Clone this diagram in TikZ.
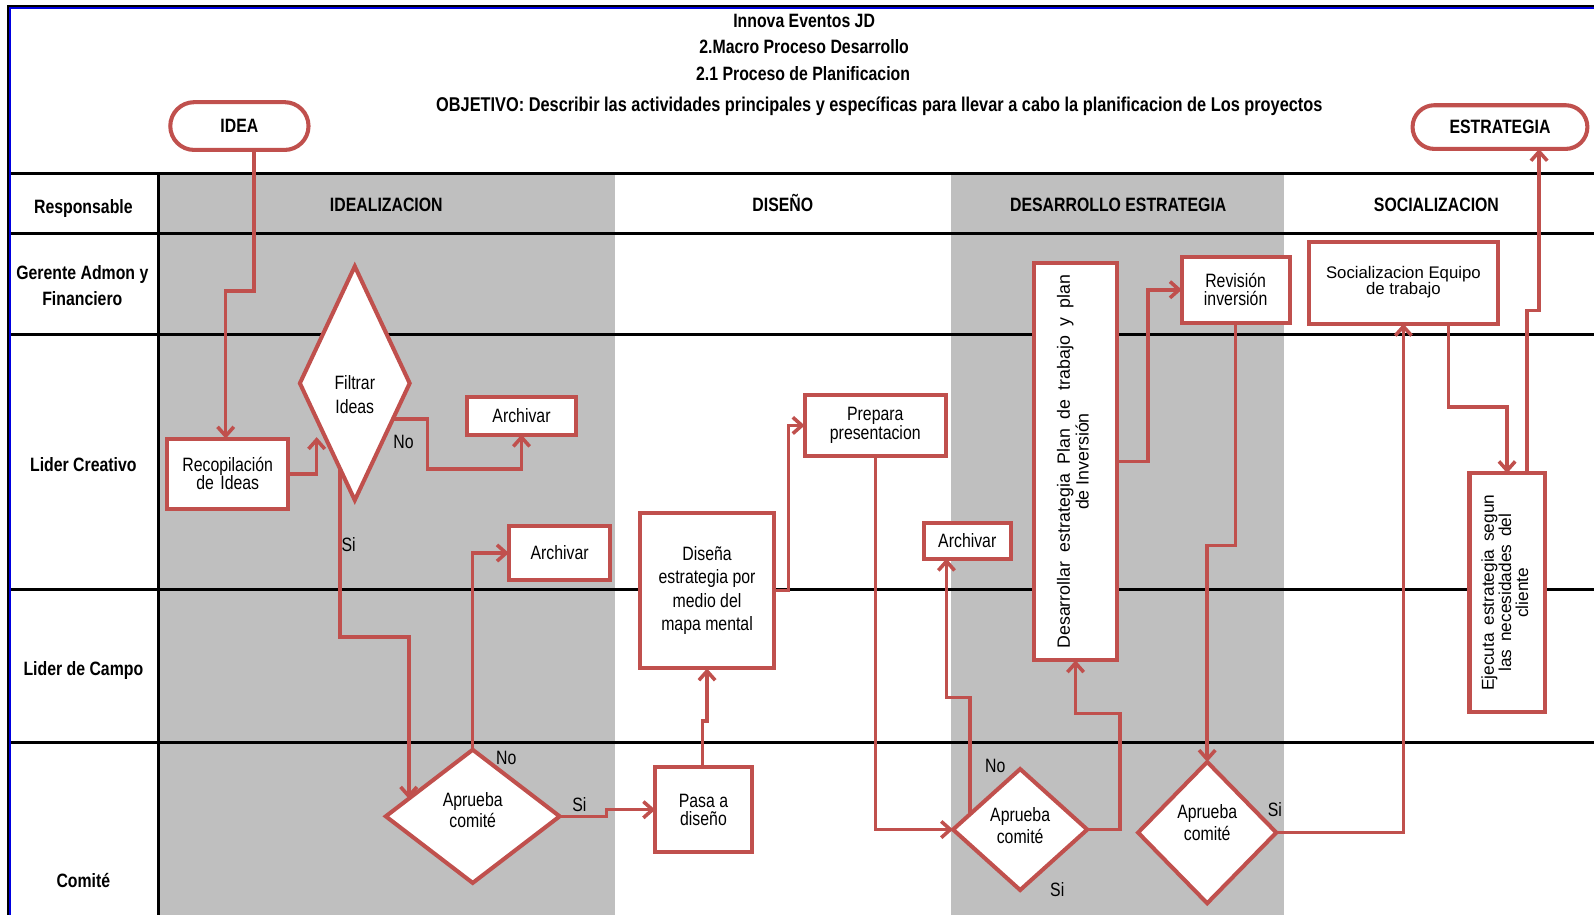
\documentclass[tikz,border=0pt]{standalone}
\usepackage{fontspec}
\setmainfont{Liberation Sans}[FakeStretch=0.82]
\newfontfamily\widesans{Liberation Sans}
\usetikzlibrary{shapes.geometric,arrows.meta,calc}
\definecolor{lnred}{RGB}{192,80,77}
\definecolor{lanegray}{RGB}{191,191,191}
\definecolor{frameblue}{RGB}{0,0,225}

\begin{document}
\begin{tikzpicture}[x=1pt,y=-1pt,
  every node/.style={inner sep=0pt, outer sep=0pt, text=black},
  nar/.style={font=\fontsize{19}{18}\selectfont},
  hdr/.style={font=\bfseries\fontsize{19}{25}\selectfont},
  box/.style={draw=lnred, line width=4pt, fill=white, rectangle, align=center, nar},
  dia/.style={draw=lnred, line width=4pt, fill=white, diamond},
  pill/.style={draw=lnred, line width=4pt, fill=white, rectangle, hdr},
  conn/.style={draw=lnred, line width=3.5pt, line join=miter,
               -{Straight Barb[length=9pt,width=16pt]}},
  gridline/.style={black, line width=3pt},
  lbl/.style={nar},
]
\useasboundingbox (0,0) rectangle (1568,900);

% lane shading for the idealizacion and desarrollo phases
\fill[lanegray] (157,171) rectangle (605,900);
\fill[lanegray] (935,171) rectangle (1263,900);

% outer frame
\draw[black, line width=2pt] (8,5.5) -- (1568,5.5);
\draw[frameblue, line width=2.5pt] (9,8) -- (1568,8);
\draw[black, line width=1.5pt] (8,5) -- (8,900);
\draw[frameblue, line width=2.5pt] (10,7) -- (10,900);

% swimlane grid
\foreach \yy in {171,230,329,580,730}
  \draw[gridline] (11,\yy) -- (1568,\yy);
\draw[gridline] (156,171) -- (156,900);

% title block
\node[hdr, anchor=base] (t1) at (791,27) {Innova Eventos JD};
\node[hdr, anchor=base] (t2) at (791,53) {2.Macro Proceso Desarrollo};
\node[hdr, anchor=base] (t3) at (790,79) {2.1 Proceso de Planificacion};
\node[hdr, anchor=base, font=\bfseries\fontsize{19.6}{25}\selectfont] (t4) at (865,110) {OBJETIVO: Describir las actividades principales y específicas para llevar a cabo la planificacion de Los proyectos};

% phase headers
\node[hdr, anchor=base] (ph1) at (380,208) {IDEALIZACION};
\node[hdr, anchor=base] (ph2) at (770,208) {DISEÑO};
\node[hdr, anchor=base] (ph3) at (1100,208) {DESARROLLO ESTRATEGIA};
\node[hdr, anchor=base] (ph4) at (1413,208) {SOCIALIZACION};

% lane labels
\node[hdr, anchor=base] (r0) at (82,210) {Responsable};
\node[hdr, align=center] (r1) at (81,281) {Gerente Admon y\\Financiero};
\node[hdr, anchor=base] (r2) at (82,464) {Lider Creativo};
\node[hdr, anchor=base] (r3) at (82,664) {Lider de Campo};
\node[hdr, anchor=base] (r4) at (82,873) {Comité};

% terminals
\node[pill, rounded corners=23.5pt, minimum width=136pt, minimum height=47pt] (idea) at (235.5,124) {IDEA};
\node[pill, rounded corners=21.5pt, minimum width=172pt, minimum height=43pt] (estr) at (1475.5,125) {ESTRATEGIA};

% activities
\node[box, minimum width=119pt, minimum height=69pt] (rec) at (224,466) {Recopilación\\de\,\,Ideas};
\node[dia, minimum width=108pt, minimum height=230pt,
      label={[nar, align=center, font=\fontsize{19}{23}\selectfont, yshift=-11pt]center:Filtrar\\Ideas}] (fil) at (349,377) {};
\node[box, minimum width=107pt, minimum height=37pt] (arc1) at (513,409) {Archivar};
\node[box, minimum width=100pt, minimum height=53pt] (arc2) at (550.5,544) {Archivar};
\node[dia, minimum width=171pt, minimum height=131pt,
      label={[nar, align=center, font=\fontsize{19}{20}\selectfont, yshift=6pt]center:Aprueba\\comité}] (ap1) at (465,803) {};
\node[box, minimum width=95pt, minimum height=84pt] (pasa) at (692,796.5) {Pasa a\\diseño};
\node[box, minimum width=132pt, minimum height=153pt, font=\fontsize{19}{23}\selectfont] (dis) at (695.5,581) {Diseña\\estrategia por\\medio del\\mapa mental};
\node[box, minimum width=139pt, minimum height=60pt] (prep) at (861,418.5) {Prepara\\presentacion};
\node[box, minimum width=86pt, minimum height=35pt] (arc3) at (951.5,532) {Archivar};
\node[box, minimum width=81pt, minimum height=391pt] (des) at (1058,454)
  {\rotatebox{90}{\widesans\fontsize{17.5}{18}\selectfont\renewcommand{\arraystretch}{1}%
   \begin{tabular}{@{}c@{}}{\spaceskip=0.53em Desarrollar estrategia Plan de trabajo y plan}\\de Inversión\end{tabular}}};
\node[dia, minimum width=132pt, minimum height=119pt,
      label={[nar, align=center, font=\fontsize{19}{22}\selectfont, yshift=4pt]center:Aprueba\\comité}] (ap2) at (1003.5,816) {};
\node[box, minimum width=106pt, minimum height=65pt] (rev) at (1215.5,285) {Revisión\\inversión};
\node[dia, minimum width=136pt, minimum height=139pt,
      label={[nar, align=center, font=\fontsize{19}{22}\selectfont, yshift=10pt]center:Aprueba\\comité}] (ap3) at (1187.5,819) {};
\node[box, minimum width=186pt, minimum height=80pt, font=\widesans\fontsize{16.5}{17}\selectfont] (soc) at (1380.5,278.5) {\raisebox{2pt}{\begin{tabular}{@{}c@{}}Socializacion Equipo\\[-1pt]de trabajo\end{tabular}}};
\node[box, minimum width=74pt, minimum height=235pt] (eje) at (1482.5,583)
  {\rotatebox{90}{\widesans\fontsize{17}{15}\selectfont\renewcommand{\arraystretch}{1}\spaceskip=0.45em
   \begin{tabular}{@{}c@{}}Ejecuta estrategia segun\\las necesidades del\\cliente\end{tabular}}};

% flow
\draw[conn] ([xshift=14.5pt]idea.south) -- ++(0,139) -| ([xshift=-2pt]rec.north);
\draw[conn] (rec.east) -- ++(28,0) -- ++(0,-36);
\draw[conn] ($(fil.east)!0.308!(fil.south)$) -- ++(34,0) -- ++(0,49) -| (arc1.south);
\draw[conn] ($(fil.west)!0.727!(fil.south)$) -- ++(0,166) -| ($(ap1.west)!0.264!(ap1.north)$);
\draw[conn] (ap1.north) |- (arc2.west);
\draw[conn] (ap1.east) -- ++(46,0) |- (pasa.west);
\draw[conn] ([xshift=-1pt]pasa.north) -- ++(0,-45) -| (dis.south);
\draw[conn] (dis.east) -- ++(14,0) |- (prep.west);
\draw[conn] (prep.south) |- (ap2.west);
\draw[conn] ($(ap2.west)!0.25!(ap2.north)$) -- ++(0,-115) -| ([xshift=-20.5pt]arc3.south);
\draw[conn] (ap2.east) -- ++(32,0) -- ++(0,-114) -| (des.south);
\draw[conn] (des.east) -- ++(31,0) |- (rev.west);
\draw[conn] (rev.south) -- ++(0,219) -| (ap3.north);
\draw[conn] (ap3.east) -| (soc.south);
\draw[conn] ([xshift=44.5pt]soc.south) -- ++(0,82) -| (eje.north);
\draw[conn] ([xshift=19.5pt]eje.north) -- ++(0,-160) -| ([xshift=38.5pt]estr.south);

% branch labels
\node[lbl] (l1) at (397,435) {No};
\node[lbl] (l2) at (343,536) {Si};
\node[lbl] (l3) at (498,746) {No};
\node[lbl] (l4) at (570,791) {Si};
\node[lbl] (l5) at (979,753) {No};
\node[lbl] (l6) at (1040,875) {Si};
\node[lbl] (l7) at (1254,796) {Si};
\end{tikzpicture}
\end{document}
